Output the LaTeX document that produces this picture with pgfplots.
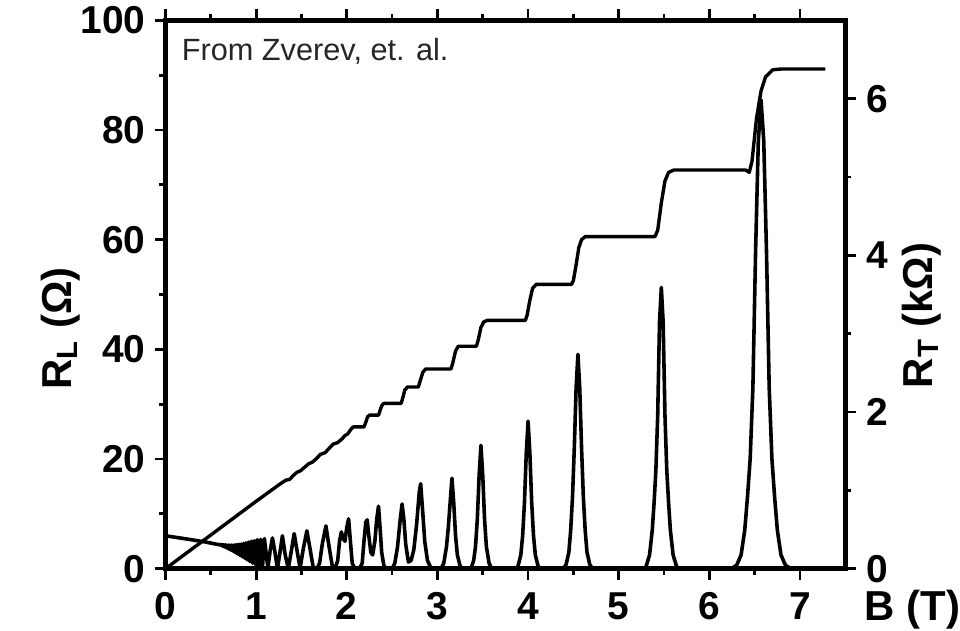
\documentclass[border=0pt]{standalone}
\usepackage{fontspec}
\setmainfont{Liberation Sans}
\usepackage{pgfplots}
\pgfplotsset{compat=1.18}
\pgfplotstableread{
B RL
0 6.0
0.2 5.5
0.43 4.9
0.55 4.5
0.60 4.35
0.618 4.4
0.625 4.15
0.632 4.4
0.639 4.05
0.646 4.35
0.653 3.95
0.661 4.35
0.669 3.85
0.677 4.3
0.685 3.7
0.693 4.3
0.702 3.55
0.711 4.3
0.720 3.4
0.729 4.3
0.738 3.25
0.748 4.3
0.758 3.05
0.768 4.35
0.778 2.85
0.789 4.4
0.800 2.65
0.812 4.45
0.823 2.4
0.835 4.5
0.848 2.15
0.861 4.6
0.874 1.9
0.887 4.7
0.901 1.6
0.916 4.85
0.931 1.3
0.946 5.0
0.962 1.0
0.978 5.1
0.995 0.7
1.013 5.3
1.031 0.45
1.050 5.35
1.070 0.25
1.091 5.5
1.13 0.1
1.155 3.3
1.18 5.6
1.205 3.3
1.235 0
1.26 2.6
1.29 6.0
1.32 2.6
1.355 0
1.39 3.4
1.42 6.4
1.45 3.4
1.485 0.1
1.52 3.6
1.56 6.9
1.595 3.6
1.63 0.2
1.67 0
1.70 1
1.73 4.5
1.77 7.8
1.80 4.5
1.84 0.5
1.87 0
1.90 1.5
1.92 5
1.94 6.7
1.96 5.5
1.98 5
2.00 7.5
2.02 9.1
2.04 5
2.06 1
2.09 0
2.14 0
2.17 1
2.19 5
2.21 8.5
2.225 8.9
2.24 6.5
2.265 3
2.285 2.5
2.31 5
2.33 9
2.35 11.4
2.365 8
2.385 3
2.41 0.5
2.44 0
2.50 0
2.53 1
2.56 4
2.59 9
2.61 11.8
2.63 9
2.65 4.5
2.68 1.2
2.71 1.5
2.74 3.5
2.77 8
2.80 14
2.815 15.5
2.835 11
2.86 5
2.89 1.5
2.93 0
3.04 0
3.07 1
3.10 4
3.12 7.5
3.14 12
3.16 16.5
3.18 12
3.20 6
3.22 2.5
3.25 0.5
3.28 0
3.37 0
3.40 1.5
3.42 4
3.44 9
3.46 17
3.48 22.5
3.50 17
3.52 9
3.54 4
3.57 1
3.60 0
3.86 0
3.89 0.5
3.92 2.5
3.94 6
3.96 12
3.98 21
4.00 26.9
4.02 21
4.04 12
4.06 6
4.08 2.5
4.11 0.5
4.14 0
4.39 0
4.42 0.8
4.45 3
4.47 7
4.49 13
4.51 22
4.53 33
4.55 39.1
4.57 33
4.59 22
4.61 13
4.63 7
4.65 3
4.68 0.8
4.71 0
5.26 0
5.30 0.3
5.34 2.5
5.37 7
5.39 12
5.41 18
5.43 28
5.45 45
5.47 51.3
5.49 45
5.51 28
5.53 18
5.55 12
5.57 7
5.60 2.5
5.64 0.3
5.68 0
6.24 0
6.30 0.6
6.35 2.5
6.39 7
6.42 13
6.45 20
6.48 33
6.51 58
6.54 78
6.57 85.5
6.60 78
6.63 58
6.66 33
6.69 20
6.72 13
6.75 7
6.79 2.5
6.84 0.6
6.90 0
7.30 0
}\rltable
\pgfplotstableread{
B RT
0 0
0.5 0.43
1.0 0.86
1.25 1.07
1.30 1.11
1.33 1.13
1.37 1.14
1.41 1.19
1.45 1.23
1.49 1.25
1.53 1.29
1.58 1.34
1.62 1.36
1.66 1.40
1.71 1.46
1.76 1.48
1.80 1.53
1.85 1.59
1.90 1.61
1.95 1.66
1.98 1.70
2.01 1.72
2.04 1.77
2.07 1.81
2.19 1.81
2.21 1.87
2.23 1.94
2.25 1.96
2.35 1.96
2.37 2.03
2.39 2.09
2.41 2.11
2.60 2.11
2.62 2.19
2.64 2.28
2.67 2.32
2.79 2.32
2.81 2.40
2.84 2.51
2.87 2.55
3.15 2.55
3.17 2.63
3.20 2.78
3.23 2.84
3.43 2.84
3.45 2.92
3.48 3.08
3.51 3.15
3.55 3.17
3.97 3.17
3.99 3.24
4.02 3.43
4.05 3.58
4.09 3.63
4.48 3.63
4.50 3.68
4.53 3.88
4.56 4.10
4.59 4.20
4.63 4.24
5.40 4.24
5.43 4.32
5.47 4.67
5.51 4.95
5.55 5.06
5.61 5.09
6.40 5.09
6.44 5.06
6.47 5.20
6.52 5.75
6.57 6.10
6.62 6.28
6.70 6.37
6.80 6.38
7.28 6.38
}\rttable
\begin{document}
\begin{tikzpicture}
\pgfplotsset{
  every axis/.append style={
    scale only axis, width=341pt, height=275pt,
    xmin=0, xmax=7.5,
    tick align=outside,
    major tick length=5.5pt, minor tick length=3pt,
    every tick/.style={line width=1.4pt, black},
    axis line style={line width=2.2pt},
    tick label style={font=\fontsize{19.5}{20}\selectfont\bfseries},
    /pgf/number format/assume math mode=true,
    clip=false,
  }
}
\begin{axis}[
  ymin=0, ymax=100,
  xtick={0,1,...,7}, minor xtick={0.5,1.5,...,6.5},
  ytick={0,20,...,100}, minor ytick={10,30,...,90},
  xtick pos=both, ytick pos=left,
  xticklabel style={yshift=-3pt},
  yticklabel style={xshift=-1pt},
]
\addplot[black, line width=1.8pt, line join=round] table[x=B, y=RL] {\rltable};
\node[anchor=base west, inner sep=0pt, text=black!85, font=\fontsize{15.4}{16}\selectfont]
  at ([xshift=8pt, yshift=-20pt]rel axis cs:0,1) {From Zverev, et. al.};
\node[anchor=base west, inner sep=0pt, font=\fontsize{21}{22}\selectfont\bfseries]
  at ([xshift=9.5pt, yshift=-26pt]rel axis cs:1,0) {B (T)};
\node[anchor=base, inner sep=0pt, rotate=90, font=\fontsize{21}{22}\selectfont\bfseries]
  at ([xshift=-47pt]rel axis cs:0,0.438) {R\textsubscript{L} (Ω)};
\end{axis}
\begin{axis}[
  ymin=0, ymax=7,
  hide x axis,
  ytick={0,2,4,6}, minor ytick={1,3,5},
  ytick pos=right, yticklabel pos=right,
  yticklabel style={xshift=1.5pt},
]
\addplot[black, line width=1.7pt, line join=round] table[x=B, y=RT] {\rttable};
\node[anchor=base, inner sep=0pt, rotate=90, font=\fontsize{21}{22}\selectfont\bfseries]
  at ([xshift=43.5pt]rel axis cs:1,0.462) {R\textsubscript{T} (kΩ)};
\end{axis}
\path (current axis.south west) ++(-83pt,-31pt) coordinate (bbA);
\path (current axis.north east) ++(56pt,8.5pt) coordinate (bbB);
\useasboundingbox (bbA) rectangle (bbB);
\end{tikzpicture}
\end{document}
